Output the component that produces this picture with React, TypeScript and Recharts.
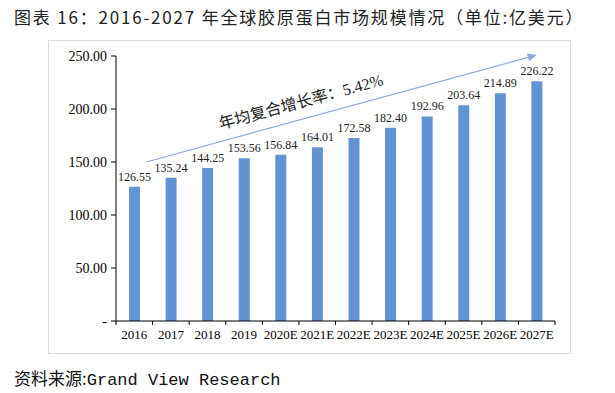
import { Bar, BarChart, LabelList, ReferenceLine, XAxis, YAxis } from "recharts"

const years = ["2016", "2017", "2018", "2019", "2020E", "2021E", "2022E", "2023E", "2024E", "2025E", "2026E", "2027E"]
const marketSize = [126.55, 135.24, 144.25, 153.56, 156.84, 164.01, 172.58, 182.4, 192.96, 203.64, 214.89, 226.22]
const yTicks = [0, 50, 100, 150, 200, 250]
const cagrLabel = "年均复合增长率：5.42%"
// trend arrow ends, in data units
const trendStart = 150
const trendEnd = 251

const data = years.map((year, i) => ({ year, value: marketSize[i] }))

const serif = "'Liberation Serif', 'Times New Roman', serif"

function XTick(props: any) {
  const { x, y, payload, index } = props
  const off = payload.offset ?? 0
  return (
    <g>
      <line x1={x - off} y1={y - 8} x2={x - off} y2={y - 4} stroke="#000" />
      {index === years.length - 1 && (
        <line x1={x + off} y1={y - 8} x2={x + off} y2={y - 4} stroke="#000" />
      )}
      <text x={x} y={y + 10} textAnchor="middle" fontFamily={serif} fontSize={13} fill="#000">
        {payload.value}
      </text>
    </g>
  )
}

function TrendArrow(props: any) {
  const { x1, y1, x2, y2 } = props
  const sx = x1 + 12
  const ex = x2
  const sy = y1
  const ey = y2
  const ang = Math.atan2(ey - sy, ex - sx)
  const deg = (ang * 180) / Math.PI
  const len = 9
  const w = 4
  const bx = ex - len * Math.cos(ang)
  const by = ey - len * Math.sin(ang)
  const px = -Math.sin(ang) * w
  const py = Math.cos(ang) * w
  const mx = sx + (ex - sx) * 0.4
  const my = sy + (ey - sy) * 0.4
  return (
    <g>
      <line x1={sx} y1={sy} x2={bx} y2={by} stroke="#8fa9d6" strokeWidth={1.2} />
      <polygon points={`${ex},${ey} ${bx + px},${by + py} ${bx - px},${by - py}`} fill="#8fa9d6" />
      <text
        x={mx}
        y={my - 12}
        textAnchor="middle"
        transform={`rotate(${deg} ${mx} ${my - 12})`}
        fontFamily="'Liberation Serif', 'Noto Sans CJK SC'"
        fontSize={16}
        fill="#222"
      >
        {cagrLabel}
      </text>
    </g>
  )
}

export default function App() {
  return (
    <div style={{ position: "absolute", left: 0, top: 0, width: 615, height: 393, background: "#fff" }}>
      <div
        style={{
          position: "absolute",
          left: 14,
          top: 4,
          fontFamily: "'Noto Sans CJK SC', sans-serif",
          fontSize: 17,
          letterSpacing: 1.8,
          color: "#222",
          whiteSpace: "pre",
        }}
      >
        图表 16：2016-2027 年全球胶原蛋白市场规模情况（单位:亿美元）
      </div>
      <div
        style={{
          position: "absolute",
          left: 48,
          top: 40,
          width: 521,
          height: 312,
          border: "1px solid #dcdcdc",
        }}
      />
      <div style={{ position: "absolute", top: 0, left: 0 }}>
        <BarChart width={615} height={393} data={data} margin={{ top: 56, right: 60, bottom: 40, left: 0 }} barSize={11}>
          <XAxis
            dataKey="year"
            axisLine={{ stroke: "#000" }}
            tickLine={false}
            tick={<XTick />}
            interval={0}
            height={32}
          />
          <YAxis
            width={116}
            domain={[0, 250]}
            ticks={yTicks}
            axisLine={{ stroke: "#000" }}
            tickLine={{ stroke: "#000" }}
            tickSize={5}
            tickMargin={4}
            tick={{ fontFamily: serif, fontSize: 14, fill: "#000" }}
            tickFormatter={(v: number) => (v === 0 ? "-" : v.toFixed(2))}
          />
          <Bar dataKey="value" fill="#6293d2" isAnimationActive={false}>
            <LabelList
              dataKey="value"
              position="top"
              offset={6}
              formatter={(v: any) => Number(v).toFixed(2)}
              style={{ fontFamily: serif, fontSize: 12, fill: "#222" }}
            />
          </Bar>
          <ReferenceLine
            segment={[
              { x: years[0], y: trendStart },
              { x: years[years.length - 1], y: trendEnd },
            ]}
            shape={<TrendArrow />}
            ifOverflow="visible"
          />
        </BarChart>
      </div>
      <div
        style={{
          position: "absolute",
          left: 14,
          top: 365,
          fontSize: 17,
          color: "#111",
          whiteSpace: "nowrap",
        }}
      >
        <span style={{ fontFamily: "'Noto Sans CJK SC', sans-serif" }}>资料来源:</span>
        <span style={{ fontFamily: "'Liberation Mono', 'DejaVu Sans Mono', monospace" }}>Grand View Research</span>
      </div>
    </div>
  )
}
